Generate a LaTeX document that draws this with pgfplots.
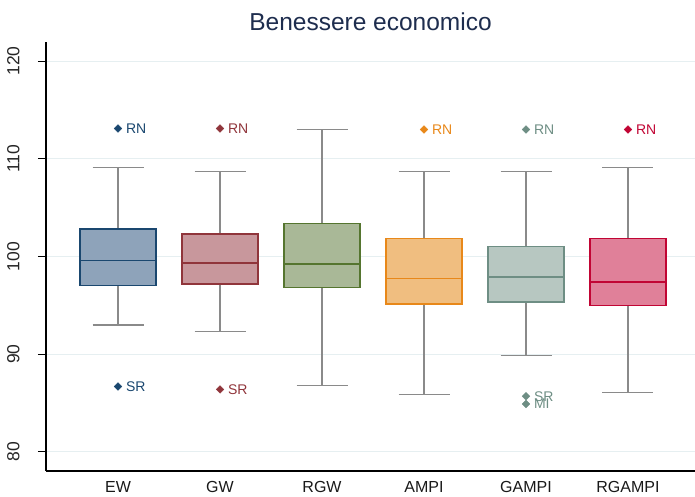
\documentclass[border=0pt]{standalone}
\usepackage{pgfplots}
\pgfplotsset{compat=1.18}
\usepackage{fontspec}
\setmainfont{Liberation Sans}
\definecolor{e1}{HTML}{1A476F}\definecolor{f1}{HTML}{8EA3BA}
\definecolor{e2}{HTML}{90353B}\definecolor{f2}{HTML}{C8979C}
\definecolor{e3}{HTML}{55752F}\definecolor{f3}{HTML}{A9B897}
\definecolor{e4}{HTML}{E8881A}\definecolor{f4}{HTML}{F0BE80}
\definecolor{e5}{HTML}{6E8E84}\definecolor{f5}{HTML}{B7C7C1}
\definecolor{e6}{HTML}{C10534}\definecolor{f6}{HTML}{E08099}
\definecolor{gridc}{HTML}{E6EFF1}
\definecolor{titc}{HTML}{1E2D4E}
\definecolor{whc}{HTML}{8A8A8A}
\pgfplotsset{
  outl/.style={only marks, mark=square*, mark size=2.7pt,
    mark options={rotate=45, fill=#1, draw=#1},
    nodes near coords, point meta=explicit symbolic,
    nodes near coords style={anchor=west, text=#1, xshift=4.5pt,
      font=\fontsize{14}{16}\selectfont}},
}
% #1 position, #2 lower whisker, #3 Q1, #4 median, #5 Q3, #6 upper whisker, #7 edge, #8 fill
\newcommand{\bxp}[8]{%
  \pgfmathsetmacro\xl{#1-0.3725}\pgfmathsetmacro\xr{#1+0.3725}%
  \pgfmathsetmacro\cl{#1-0.25}\pgfmathsetmacro\cr{#1+0.25}%
  \edef\tmp{%
    \noexpand\addplot[whc, line width=1.3pt, mark=none] coordinates {(#1,#5) (#1,#6)};
    \noexpand\addplot[whc, line width=1.3pt, mark=none] coordinates {(\cl,#6) (\cr,#6)};
    \noexpand\addplot[whc, line width=1.3pt, mark=none] coordinates {(#1,#3) (#1,#2)};
    \noexpand\addplot[whc, line width=1.3pt, mark=none] coordinates {(\cl,#2) (\cr,#2)};
    \noexpand\addplot[draw=#7, fill=#8, line width=1.3pt, line cap=rect, mark=none] coordinates {(\xl,#3) (\xr,#3) (\xr,#5) (\xl,#5) (\xl,#3)};
    \noexpand\addplot[draw=#7, line width=1.7pt, mark=none] coordinates {(\xl,#4) (\xr,#4)};
  }\tmp}
\begin{document}
\begin{tikzpicture}
\begin{axis}[
  at={(46pt,26pt)}, anchor=south west,
  scale only axis, width=649pt, height=429pt,
  xmin=-0.706, xmax=5.657, ymin=78.05, ymax=121.95,
  axis x line*=bottom, axis y line*=left,
  axis line style={black, line width=1.2pt},
  xtick={0,1,2,3,4,5},
  xticklabels={EW,GW,RGW,AMPI,GAMPI,RGAMPI},
  ytick={80,90,100,110,120},
  ymajorgrids, grid style={color=gridc, line width=0.9pt},
  tick align=outside, major tick length=8pt,
  x tick style={draw=none},
  y tick style={black, line width=0.9pt},
  /pgf/number format/assume math mode=true,
  yticklabel style={xshift=-15pt, rotate=90, anchor=south, font=\fontsize{17.5}{20}\selectfont, text=black!85},
  xticklabel style={font=\fontsize{16}{19}\selectfont, text=black!90, yshift=1pt},
  title={Benessere economico},
  title style={font=\fontsize{24.5}{28}\selectfont, text=titc, at={(0.5,1)}, anchor=south, yshift=2pt},
  clip=false,
]
\bxp{0}{93.0}{97.0}{99.6}{102.8}{109.1}{e1}{f1}
\bxp{1}{92.3}{97.2}{99.35}{102.3}{108.7}{e2}{f2}
\bxp{2}{86.8}{96.85}{99.2}{103.4}{113.0}{e3}{f3}
\bxp{3}{85.9}{95.15}{97.75}{101.85}{108.7}{e4}{f4}
\bxp{4}{89.9}{95.35}{97.9}{101.05}{108.7}{e5}{f5}
\bxp{5}{86.1}{94.97}{97.4}{101.85}{109.1}{e6}{f6}
\addplot[outl=e1] table[meta=lab, row sep=\\] {x y lab\\ 0 113.1 RN\\ 0 86.7 SR\\};
\addplot[outl=e2] table[meta=lab, row sep=\\] {x y lab\\ 1 113.1 RN\\ 1 86.4 SR\\};
\addplot[outl=e4] table[meta=lab, row sep=\\] {x y lab\\ 3 113.0 RN\\};
\addplot[outl=e5] table[meta=lab, row sep=\\] {x y lab\\ 4 113.0 RN\\ 4 85.7 SR\\ 4 84.9 MI\\};
\addplot[outl=e6] table[meta=lab, row sep=\\] {x y lab\\ 5 113.0 RN\\};
\end{axis}
\pgfresetboundingbox
\path[use as bounding box] (0,0) rectangle (695pt,497pt);
\end{tikzpicture}
\end{document}
